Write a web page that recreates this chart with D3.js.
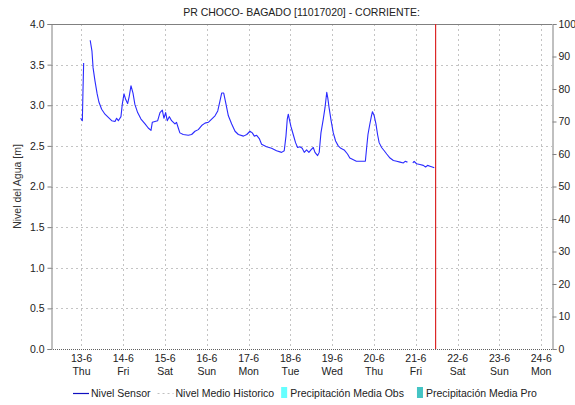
<!DOCTYPE html>
<html>
<head>
<meta charset="utf-8">
<script src="https://cdn.jsdelivr.net/npm/d3@7"></script>
<style>
  body { margin: 0; background: #fff; }
  svg { display: block; font-family: "Liberation Sans", Arial, sans-serif; }
</style>
</head>
<body>
<div id="chart"></div>
<script>
// Chart data
const chartTitle = 'PR CHOCO- BAGADO [11017020] - CORRIENTE:';
const leftAxisTitle = 'Nivel del Agua [m]';

const sensorTimes = [
  '2024-06-12 23:30', '2024-06-13 00:30', '2024-06-13 00:50', '2024-06-13 01:15', '2024-06-13 02:00',
  '2024-06-13 05:00', '2024-06-13 06:00', '2024-06-13 06:40', '2024-06-13 07:45', '2024-06-13 09:00',
  '2024-06-13 10:00', '2024-06-13 11:35', '2024-06-13 13:30', '2024-06-13 15:25', '2024-06-13 17:20',
  '2024-06-13 19:15', '2024-06-13 20:10', '2024-06-13 21:10', '2024-06-13 22:40', '2024-06-13 23:25',
  '2024-06-14 00:25', '2024-06-14 01:25', '2024-06-14 02:30', '2024-06-14 03:25', '2024-06-14 04:25',
  '2024-06-14 05:35', '2024-06-14 06:40', '2024-06-14 08:15', '2024-06-14 10:10', '2024-06-14 12:30',
  '2024-06-14 14:20', '2024-06-14 15:55', '2024-06-14 16:40', '2024-06-14 18:10', '2024-06-14 19:45',
  '2024-06-14 21:05', '2024-06-14 22:25', '2024-06-14 23:20', '2024-06-15 00:20', '2024-06-15 01:15',
  '2024-06-15 02:25', '2024-06-15 03:45', '2024-06-15 05:40', '2024-06-15 06:35', '2024-06-15 07:35',
  '2024-06-15 08:30', '2024-06-15 10:25', '2024-06-15 13:20', '2024-06-15 15:15', '2024-06-15 17:10',
  '2024-06-15 19:05', '2024-06-15 21:00', '2024-06-15 22:55', '2024-06-16 00:50', '2024-06-16 02:45',
  '2024-06-16 04:40', '2024-06-16 06:15', '2024-06-16 07:30', '2024-06-16 08:30', '2024-06-16 09:40',
  '2024-06-16 10:50', '2024-06-16 12:20', '2024-06-16 14:15', '2024-06-16 16:10', '2024-06-16 18:05',
  '2024-06-16 21:00', '2024-06-16 22:55', '2024-06-17 00:45', '2024-06-17 02:05', '2024-06-17 03:15',
  '2024-06-17 04:35', '2024-06-17 06:05', '2024-06-17 07:25', '2024-06-17 10:15', '2024-06-17 13:10',
  '2024-06-17 16:00', '2024-06-17 18:55', '2024-06-17 20:25', '2024-06-17 21:25', '2024-06-17 22:10',
  '2024-06-17 22:45', '2024-06-17 23:20', '2024-06-18 00:15', '2024-06-18 01:35', '2024-06-18 02:55',
  '2024-06-18 04:05', '2024-06-18 05:25', '2024-06-18 06:45', '2024-06-18 07:55', '2024-06-18 09:15',
  '2024-06-18 10:35', '2024-06-18 11:45', '2024-06-18 13:05', '2024-06-18 14:05', '2024-06-18 15:35',
  '2024-06-18 16:30', '2024-06-18 17:30', '2024-06-18 18:50', '2024-06-18 19:50', '2024-06-18 20:50',
  '2024-06-18 21:25', '2024-06-18 22:10', '2024-06-18 23:20', '2024-06-19 00:35', '2024-06-19 01:55',
  '2024-06-19 03:25', '2024-06-19 04:55', '2024-06-19 06:50', '2024-06-19 08:45', '2024-06-19 10:05',
  '2024-06-19 13:50', '2024-06-19 16:40', '2024-06-19 19:00', '2024-06-19 19:45', '2024-06-19 20:30',
  '2024-06-19 21:30', '2024-06-19 22:30', '2024-06-19 23:05', '2024-06-20 00:05', '2024-06-20 01:05',
  '2024-06-20 02:00', '2024-06-20 02:55', '2024-06-20 04:20', '2024-06-20 05:50', '2024-06-20 07:15',
  '2024-06-20 09:10', '2024-06-20 11:05', '2024-06-20 13:00', '2024-06-20 14:55', '2024-06-20 16:50',
  '2024-06-20 17:50', '2024-06-20 19:10', '2024-06-20 20:00', '2024-06-20 22:15', '2024-06-20 23:00',
  '2024-06-21 00:25', '2024-06-21 02:20', '2024-06-21 04:15', '2024-06-21 05:35', '2024-06-21 06:45',
  '2024-06-21 08:05', '2024-06-21 09:25', '2024-06-21 10:35'
];

// null = missing reading (gap in the line)
const sensorLevels = [
  2.84, 2.81, 3.15, 3.52, null,
  3.80, 3.67, 3.46, 3.30, 3.14,
  3.04, 2.95, 2.89, 2.85, 2.81,
  2.80, 2.84, 2.81, 2.86, 3.01,
  3.14, 3.07, 3.02, 3.11, 3.24,
  3.15, 3.01, 2.91, 2.83, 2.77,
  2.72, 2.69, 2.79, 2.80, 2.81,
  2.91, 2.94, 2.84, 2.91, 2.81,
  2.86, 2.81, 2.77, 2.79, 2.72,
  2.66, 2.64, 2.63, 2.64, 2.68,
  2.70, 2.75, 2.78, 2.79, 2.83,
  2.87, 2.93, 3.05, 3.15, 3.15,
  3.03, 2.87, 2.77, 2.68, 2.64,
  2.62, 2.64, 2.68, 2.66, 2.62,
  2.63, 2.59, 2.52, 2.49, 2.47,
  2.44, 2.42, 2.44, 2.62, 2.83,
  2.89, 2.83, 2.74, 2.64, 2.54,
  2.48, 2.49, 2.47, 2.42, 2.45,
  2.42, 2.45, 2.48, 2.42, 2.38,
  2.42, 2.66, 2.83, 2.97, 3.16,
  3.09, 2.97, 2.81, 2.66, 2.56,
  2.50, 2.47, 2.45, 2.40, 2.35,
  2.31, 2.31, 2.31, 2.48, 2.64,
  2.76, 2.87, 2.92, 2.87, 2.77,
  2.64, 2.54, 2.48, 2.44, 2.40,
  2.35, 2.32, 2.31, 2.30, 2.29,
  2.31, 2.30, null, 2.29, 2.31,
  2.28, 2.27, 2.26, 2.24, 2.26,
  2.25, 2.24, 2.23
];

const levelTicks = [0, 0.5, 1, 1.5, 2, 2.5, 3, 3.5, 4];
const precipTicks = [0, 10, 20, 30, 40, 50, 60, 70, 80, 90, 100];
const dayTicks = ['2024-06-13', '2024-06-14', '2024-06-15', '2024-06-16', '2024-06-17', '2024-06-18',
  '2024-06-19', '2024-06-20', '2024-06-21', '2024-06-22', '2024-06-23', '2024-06-24'];
const timeRange = ['2024-06-12 06:30', '2024-06-24 06:10'];
const nowTime = '2024-06-21 11:00';
const legendItems = ['Nivel Sensor', 'Nivel Medio Historico', 'Precipitación Media Obs', 'Precipitación Media Pro'];

function drawChart() {
  const width = 575, height = 405;
  const margin = { top: 24, right: 23, bottom: 56, left: 51 };
  const fontSize = '10.5px';

  const parseTime = d3.timeParse('%Y-%m-%d %H:%M');
  const parseDay = d3.timeParse('%Y-%m-%d');

  const svg = d3.select('#chart')
    .append('svg')
    .attr('width', width)
    .attr('height', height);

  svg.append('rect').attr('width', width).attr('height', height).attr('fill', '#fff');

  const x = d3.scaleTime()
    .domain(timeRange.map(parseTime))
    .range([margin.left, width - margin.right]);

  const y = d3.scaleLinear()
    .domain([0, 4])
    .range([height - margin.bottom, margin.top]);

  const yRight = d3.scaleLinear()
    .domain([0, 100])
    .range([height - margin.bottom, margin.top]);

  const left = margin.left, right = width - margin.right;
  const top = margin.top, bottom = height - margin.bottom;

  // Grid
  const grid = svg.append('g').attr('stroke', '#c4c4c4').attr('stroke-dasharray', '2,3').attr('stroke-width', 1);
  grid.selectAll('.hgrid')
    .data(levelTicks.filter(d => d > 0 && d < 4))
    .join('line')
    .attr('x1', left).attr('x2', right)
    .attr('y1', d => Math.round(y(d)) + 0.5).attr('y2', d => Math.round(y(d)) + 0.5);
  grid.selectAll('.vgrid')
    .data(dayTicks.map(parseDay))
    .join('line')
    .attr('y1', top).attr('y2', bottom)
    .attr('x1', d => Math.round(x(d)) + 0.5).attr('x2', d => Math.round(x(d)) + 0.5);

  // Frame lines
  svg.append('line').attr('x1', left).attr('x2', right).attr('y1', top + 0.5).attr('y2', top + 0.5).attr('stroke', '#808080');
  svg.append('line').attr('x1', left).attr('x2', right).attr('y1', bottom + 0.5).attr('y2', bottom + 0.5)
    .attr('stroke', '#606060').attr('stroke-dasharray', '1,1');

  // Left axis
  const leftAxis = svg.append('g')
    .attr('transform', `translate(${left + 0.5},0)`)
    .call(d3.axisLeft(y).tickValues(levelTicks).tickFormat(d3.format('.1f')).tickSize(4).tickPadding(3));
  leftAxis.select('.domain').attr('stroke', '#808080');
  leftAxis.selectAll('.tick line').attr('stroke', '#808080');
  leftAxis.selectAll('text').attr('font-size', fontSize).attr('font-family', null).attr('fill', '#222');

  // Right axis
  const rightAxis = svg.append('g')
    .attr('transform', `translate(${right + 0.5},0)`)
    .call(d3.axisRight(yRight).tickValues(precipTicks).tickSize(4).tickPadding(2));
  rightAxis.select('.domain').attr('stroke', '#808080');
  rightAxis.selectAll('.tick line').attr('stroke', '#808080');
  rightAxis.selectAll('text').attr('font-size', fontSize).attr('font-family', null).attr('fill', '#222');

  // Bottom day labels
  const dayFmt = d3.timeFormat('%-d-%-m');
  const wdFmt = d3.timeFormat('%a');
  const xl = svg.append('g').attr('font-size', fontSize).attr('fill', '#222').attr('text-anchor', 'middle');
  xl.selectAll('.d1')
    .data(dayTicks.map(parseDay))
    .join('text')
    .attr('x', d => x(d))
    .attr('y', bottom + 13)
    .text(d => dayFmt(d));
  xl.selectAll('.d2')
    .data(dayTicks.map(parseDay))
    .join('text')
    .attr('x', d => x(d))
    .attr('y', bottom + 26)
    .text(d => wdFmt(d));

  // Current time marker (red)
  const nowX = Math.round(x(parseTime(nowTime))) + 0.5;
  svg.append('rect')
    .attr('x', nowX - 0.5)
    .attr('y', top)
    .attr('width', 1.2)
    .attr('height', bottom - top)
    .style('fill', 'rgb(220, 40, 40)');

  // Sensor line
  const series = sensorTimes.map((t, i) => ({ t: parseTime(t), v: sensorLevels[i] }));
  const line = d3.line()
    .defined(d => d.v !== null)
    .x(d => x(d.t))
    .y(d => y(d.v));
  svg.append('path')
    .datum(series)
    .attr('fill', 'none')
    .attr('stroke', '#2a2aff')
    .attr('stroke-width', 1.1)
    .attr('stroke-linejoin', 'round')
    .attr('d', line);

  // Title
  svg.append('text')
    .attr('x', (left + right) / 2)
    .attr('y', 16)
    .attr('text-anchor', 'middle')
    .attr('font-size', fontSize)
    .attr('fill', '#222')
    .text(chartTitle);

  // Left axis title
  svg.append('text')
    .attr('transform', `translate(21,${(top + bottom) / 2}) rotate(-90)`)
    .attr('text-anchor', 'middle')
    .attr('font-size', fontSize)
    .attr('fill', '#333')
    .text(leftAxisTitle);

  // Legend
  const legend = svg.append('g').attr('font-size', fontSize).attr('fill', '#222');
  const ly = 393;
  let lx = 73;
  legendItems.forEach((label, i) => {
    if (i === 0) {
      legend.append('line').attr('x1', lx).attr('x2', lx + 16).attr('y1', ly + 0.5).attr('y2', ly + 0.5)
        .attr('stroke', '#1010c0').attr('stroke-width', 1.2);
      lx += 18;
    } else if (i === 1) {
      legend.append('line').attr('x1', lx).attr('x2', lx + 16).attr('y1', ly + 0.5).attr('y2', ly + 0.5)
        .attr('stroke', '#c0c0c0').attr('stroke-dasharray', '2,3');
      lx += 18;
    } else {
      legend.append('rect').attr('x', lx).attr('y', ly - 6).attr('width', 6).attr('height', 11)
        .attr('fill', i === 2 ? '#66ffff' : '#44c4c4');
      lx += 9;
    }
    const t = legend.append('text').attr('x', lx).attr('y', ly + 4).text(label);
    lx += t.node().getComputedTextLength() + (i === 2 ? 13 : 7);
  });
}

if (document.readyState === 'loading') {
  document.addEventListener('DOMContentLoaded', drawChart);
} else {
  drawChart();
}
</script>
</body>
</html>
